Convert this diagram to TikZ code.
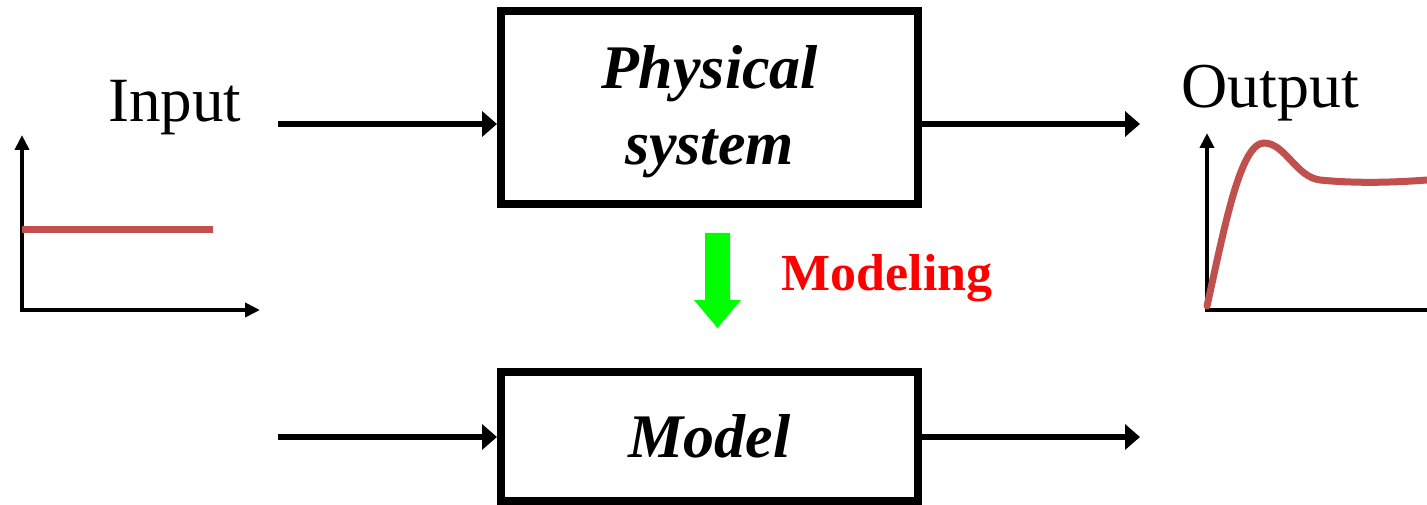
\documentclass[tikz,border=0pt]{standalone}
\usepackage{fontspec}
\setmainfont{Liberation Serif}
\usetikzlibrary{arrows.meta}

\definecolor{curvered}{HTML}{C0504D}
\definecolor{modgreen}{HTML}{00FF00}

\begin{document}
\begin{tikzpicture}[x = 1pt, y = -1pt,
        sysbox/.style = {draw, line width = 8pt, minimum width = 417pt, inner sep = 0pt},
        flow/.style = {line width = 6.5pt, -{Triangle[length = 15pt, width = 25pt]}},
        axis/.style = {line width = 4pt, {Triangle[length = 15pt, width = 14pt]}-{Triangle[length = 15pt, width = 14pt]}},
        bigtext/.style = {font = \fontsize{62}{76}\selectfont\bfseries\itshape}]

        \useasboundingbox (0, 0) rectangle (1427, 505);

        % blocks
        \node (psys) at (709.5, 107.5) [sysbox, minimum height = 193pt, bigtext]
            {\raisebox{-4pt}[\height][\depth]{\begin{tabular}{@{}c@{}}Physical\\system\end{tabular}}};
        \node (model) at (709.5, 436.5) [sysbox, minimum height = 129pt, bigtext] {Model};

        % input and output of the physical system
        \coordinate (in1) at (278, 124);
        \coordinate (out1) at (1140, 124);
        \draw [flow] (in1) -- (in1 -| psys.west);
        \draw [flow] (psys.east |- out1) -- (out1);

        % input and output of the model
        \coordinate (in2) at (278, 437);
        \coordinate (out2) at (1140, 437);
        \draw [flow] (in2) -- (in2 -| model.west);
        \draw [flow] (model.east |- out2) -- (out2);

        % modeling step
        \fill [modgreen] (705, 233) -- (730, 233) -- (730, 300) -- (741, 300) -- (717.5, 328) -- (694, 300) -- (705, 300) -- cycle;
        \node (modtext) at (778, 290) [anchor = base west, text = red, font = \fontsize{52}{60}\selectfont\bfseries] {Modeling};

        % input signal
        \node (intext) at (175, 122) [anchor = base, font = \fontsize{63}{70}\selectfont] {Input};
        \draw [axis] (22, 135) -- (22, 310) -- (260, 310);
        \draw [curvered, line width = 7pt] (22, 230) -- (213, 230);

        % output signal
        \node (outtext) at (1270, 108) [anchor = base, font = \fontsize{64}{70}\selectfont] {Output};
        \draw [line width = 4pt, {Triangle[length = 15pt, width = 14pt]}-] (1207, 133) -- (1207, 310) -- (1427, 310);
        \draw [curvered, line width = 7pt, line cap = round] (1207, 306) .. controls (1224, 230) and (1240, 143) .. (1264, 143)
            .. controls (1285, 143) and (1296, 177) .. (1320, 180)
            .. controls (1360, 184) and (1400, 182) .. (1427, 180);

    \end{tikzpicture}
\end{document}
